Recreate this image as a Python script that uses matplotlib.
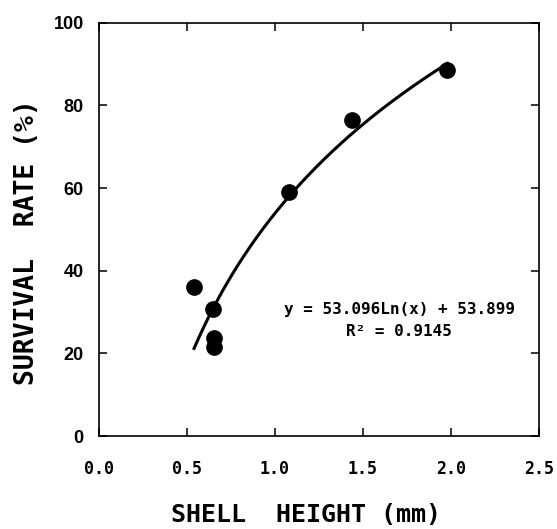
import matplotlib

matplotlib.use("Agg")
import matplotlib.pyplot as plt
import numpy as np

# survival rate vs shell height
shell_height = [0.54, 0.65, 0.655, 0.655, 1.08, 1.44, 1.98]
survival_rate = [36.0, 30.8, 23.6, 21.6, 59.0, 76.4, 88.6]

# log fit printed on the chart
fit_a = 53.096
fit_b = 53.899
fit_r2 = 0.9145

x_ticks = [0.0, 0.5, 1.0, 1.5, 2.0, 2.5]
y_ticks = [0, 20, 40, 60, 80, 100]

MONO = "DejaVu Sans Mono"

fig = plt.figure(figsize=(5.57, 5.29), dpi=100)
ax = fig.add_axes([0.1777, 0.1758, 0.79, 0.7812])

xs = np.linspace(min(shell_height), max(shell_height), 200)
ax.plot(xs, fit_a * np.log(xs) + fit_b, color="black", lw=2.2, zorder=2)
ax.plot(shell_height, survival_rate, "o", color="black", ms=11, zorder=3)

ax.set_xlim(0, 2.5)
ax.set_ylim(0, 100)
ax.set_xticks(x_ticks)
ax.set_yticks(y_ticks)
ax.set_xticklabels([f"{v:.1f}" for v in x_ticks], family=MONO,
                   fontweight="bold", fontsize=12)
ax.set_yticklabels([str(v) for v in y_ticks], family="Liberation Sans",
                   fontweight="bold", fontsize=13)
ax.tick_params(direction="in", length=6, width=1.1, top=True, right=True)
ax.tick_params(axis="x", pad=17)
ax.tick_params(axis="y", pad=11)
for sp in ax.spines.values():
    sp.set_linewidth(1.2)

ax.set_xlabel("SHELL  HEIGHT (mm)", family=MONO, fontweight="bold",
              fontsize=18, labelpad=18)
ax.set_ylabel("SURVIVAL  RATE (%)", family=MONO, fontweight="bold",
              fontsize=19, labelpad=10)
# the labels sit a little off-centre in the original
ax.xaxis.label.set_x(0.47)
ax.yaxis.label.set_y(0.47)

ax.text(1.705, 28.0,
        f"y = {fit_a:.3f}Ln(x) + {fit_b:.3f}\nR\u00b2 = {fit_r2:.4f}",
        family=MONO, fontweight="bold", fontsize=11.5,
        ha="center", va="center", multialignment="center", linespacing=1.6)

fig.savefig("out.png", dpi=100)
